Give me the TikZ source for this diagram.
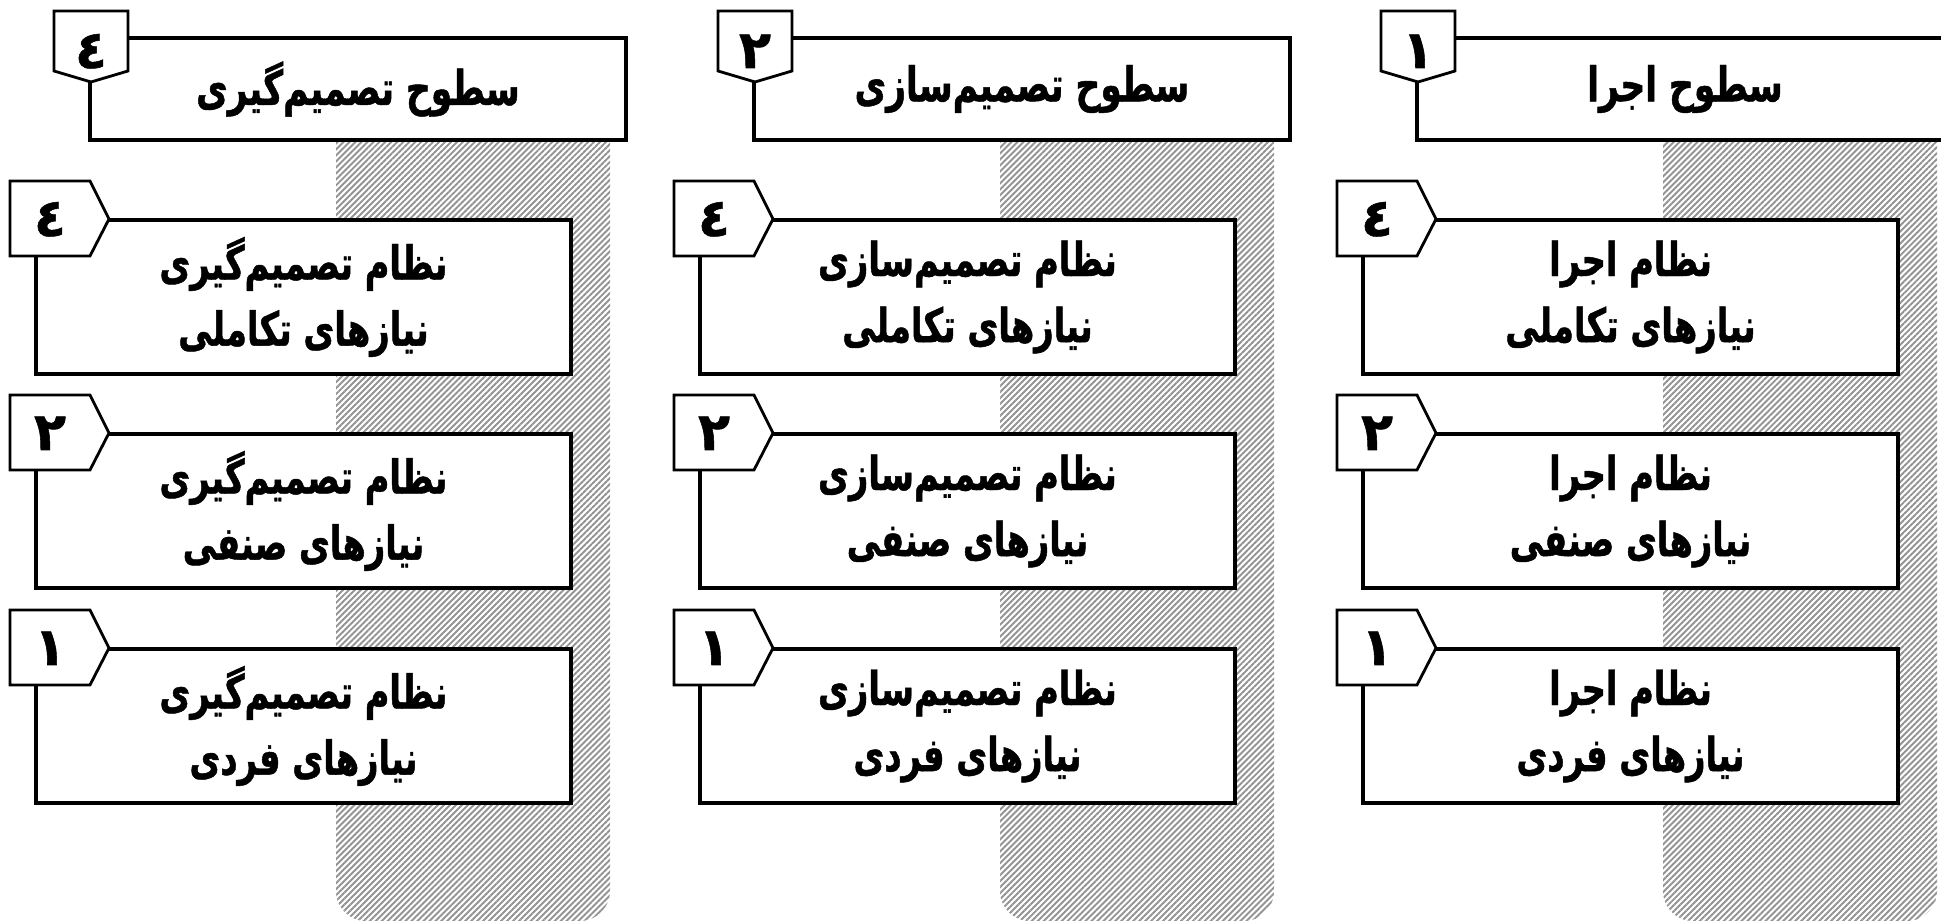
\documentclass[tikz,border=0pt]{standalone}
\usepackage{fontspec}
\newfontfamily\farsi[Script=Arabic, FakeStretch=0.72, FakeBold=1]{DejaVu Sans}
\newfontfamily\farsinum[Script=Arabic, FakeBold=1]{DejaVu Sans}
\TeXXeTstate=1
\usetikzlibrary{patterns.meta}

\tikzset{
  hatch/.style={pattern={Lines[angle=45,distance=1.2pt,line width=0.55pt]}, pattern color=gray!85},
  headbox/.style={draw, line width=1.1pt, fill=white, minimum width=5.36cm, minimum height=1.02cm, font=\farsi\bfseries\fontsize{13.6}{16}\selectfont},
  sysbox/.style={draw, line width=1.1pt, fill=white, minimum width=5.35cm, minimum height=1.54cm, align=center, font=\farsi\bfseries\fontsize{13.3}{18.8}\selectfont},
  badge/.style={draw, line width=0.8pt, fill=white},
  num/.style={inner sep=0pt, anchor=base, font=\farsinum\bfseries\fontsize{15}{15}\selectfont}
}

\begin{document}
\begin{tikzpicture}[x=0.1mm, y=-0.1mm]
  \useasboundingbox (0,0) rectangle (1941,921);

  \foreach \dx/\col/\hd/\sysname/\dg in {0/a/{سطوح تصمیم‌گیری}/{نظام تصمیم‌گیری}/٤, 664/b/{سطوح تصمیم‌سازی}/{نظام تصمیم‌سازی}/٢, 1327/c/{سطوح اجرا}/{نظام اجرا}/١} {
    % hatched strip behind the column
    \path[hatch, rounded corners=3mm] (\dx+336,140) -- (\dx+336,921) -- (\dx+610,921) -- (\dx+610,140);

    \node[headbox] (head-\col) at (\dx+358,89) {\beginR\hd\endR};
    \draw[badge] (\dx+54,11) -- (\dx+128,11) -- (\dx+128,71) -- (\dx+91,82) -- (\dx+54,71) -- cycle;
    \node[num] (headnum-\col) at (\dx+91,68) {\dg};

    \foreach \ty/\row/\rdg/\need in {220/3/٤/تکاملی, 434/2/٢/صنفی, 649/1/١/فردی} {
      \node[sysbox] (sys-\col-\row) at (\dx+303.5,\ty+77) {\beginR\sysname\endR\\\beginR نیازهای \need\endR};
      \draw[badge] (\dx+10,\ty-39) -- (\dx+90,\ty-39) -- (\dx+109,\ty-1) -- (\dx+90,\ty+36) -- (\dx+10,\ty+36) -- cycle;
      \node[num] (num-\col-\row) at (\dx+50,\ty+16) {\rdg};
    }
  }
\end{tikzpicture}
\end{document}
